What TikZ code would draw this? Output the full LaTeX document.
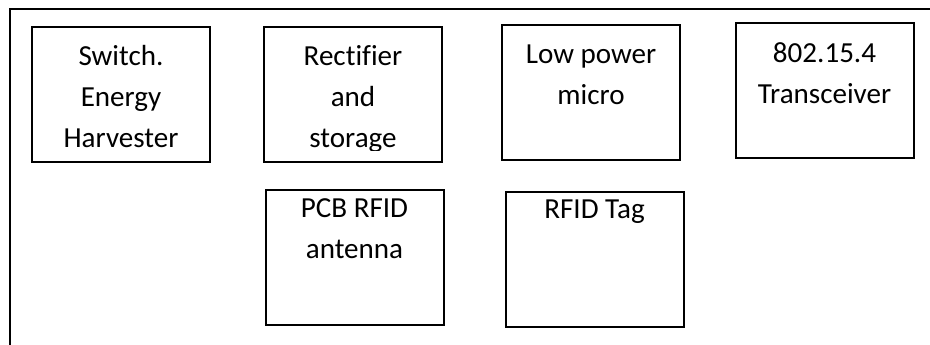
\documentclass[tikz,border=0pt]{standalone}
\usepackage{fontspec}
\setmainfont[Ligatures=NoCommon]{Carlito}
\usepackage{tikz}
\usetikzlibrary{positioning}

\begin{document}
\begin{tikzpicture}[
    x=0.75pt, y=-0.75pt,
    box/.style={draw, rectangle, line width=1.5pt,
                minimum width=133.5pt, minimum height=101.25pt, inner sep=0pt},
    txt/.style={anchor=north, inner sep=0pt, align=center,
                font=\fontsize{21.8}{31}\selectfont},
    frame/.style={line width=1.5pt}
]
\useasboundingbox (0,0) rectangle (930,344);

% Outer frame (left and top edges)
\coordinate (fbl) at (10,350);
\coordinate (ftl) at (10,9);
\coordinate (ftr) at (940,9);
\draw[frame] (fbl) -- (ftl) -- (ftr);

% Row 1
\node[box] (harv)  at (121,   94.5) {};
\node[box] (rect)  at (353,   94.5) {};
\node[box] (micro) at (591,   92)   {};
\node[box] (trx)   at (824.5, 90)   {};

% Row 2
\node[box] (ant) at (354.5, 257.5) {};
\node[box] (tag) at (594.5, 259.5) {};

% Texts
\node[txt] (harvtxt)  at (121, 36)   {\strut Switch.\\Energy\\Harvester};
\begin{scope}
  \clip (250,0) rectangle (460,150);
  \node[txt] (recttxt) at (353, 36) {\strut Rectifier\\and\\storage};
\end{scope}
\node[txt] (microtxt) at (591, 34)   {\strut Low power\\micro};
\node[txt] (trxtxt)   at (824.5, 33) {\strut 802.15.4\\Transceiver};
\node[txt] (anttxt)   at (354.5, 188) {\strut PCB RFID\\antenna};
\node[txt] (tagtxt)   at (594.5, 189) {\strut RFID Tag};

\end{tikzpicture}
\end{document}
